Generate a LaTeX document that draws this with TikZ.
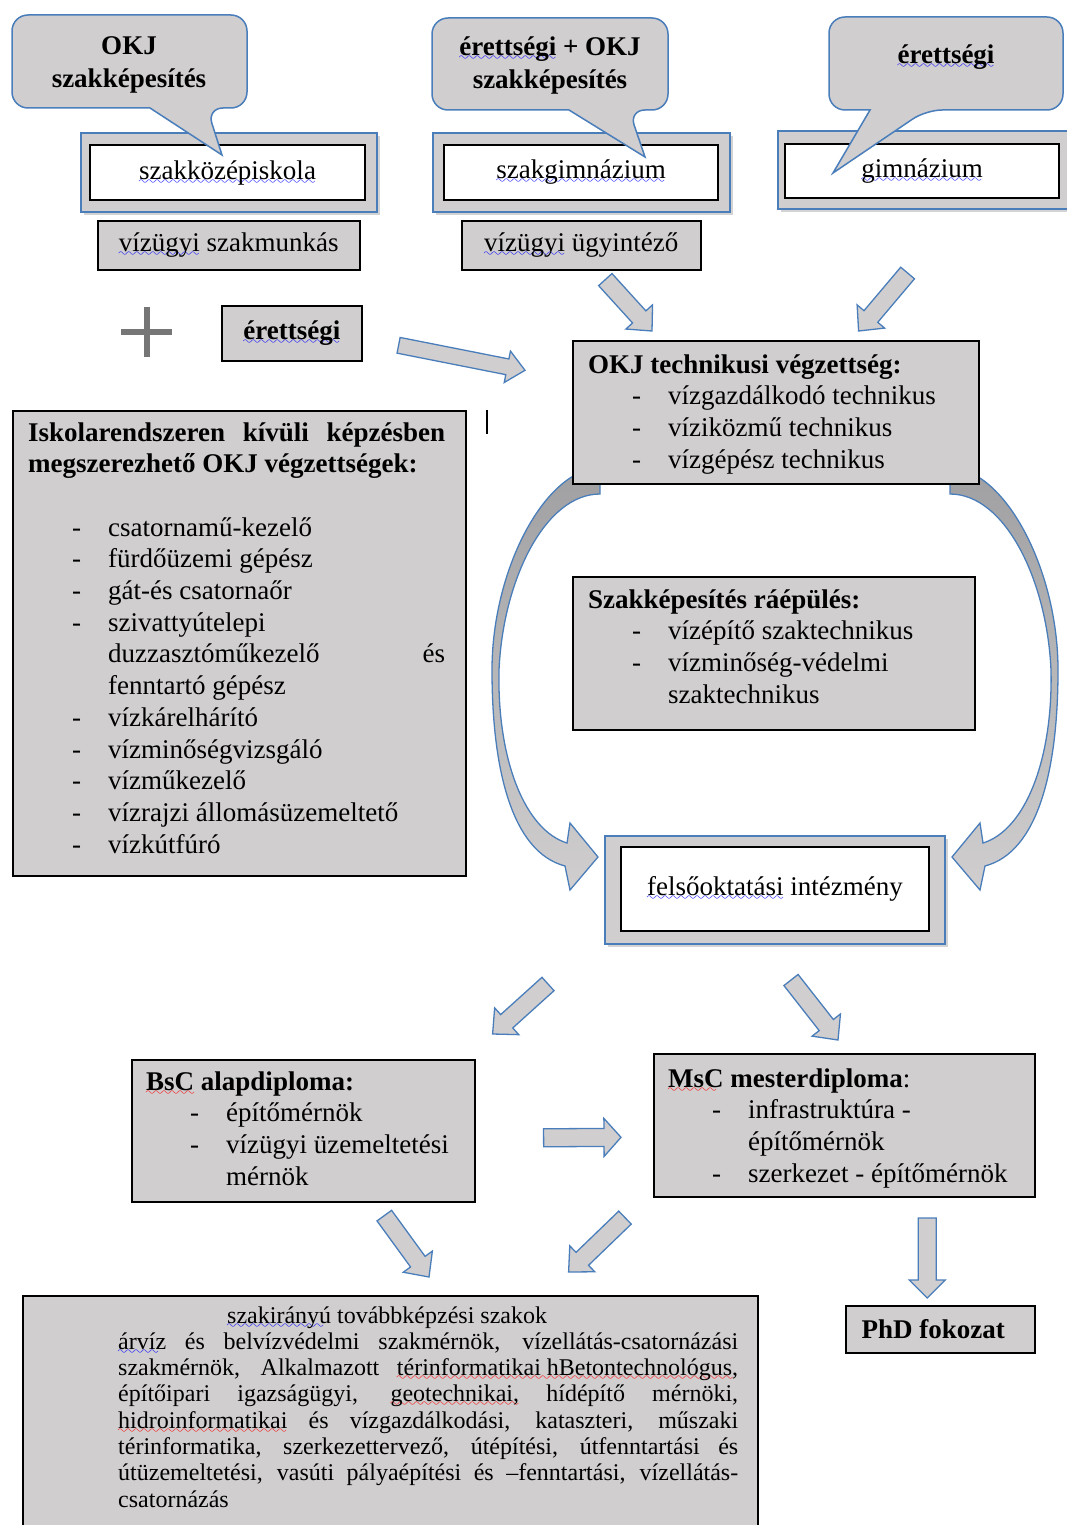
\documentclass[tikz,border=0pt]{standalone}
\usepackage{fontspec}
\setmainfont{Liberation Serif}
\usetikzlibrary{calc,shadows}

\definecolor{szurke}{RGB}{208,206,207}
\definecolor{kek}{RGB}{74,126,187}
\definecolor{sotetszurke}{RGB}{160,160,162}
\definecolor{pluszszurke}{RGB}{118,118,118}

% helyesirasi hullamvonalak
\font\hullamfont=lasy10 at 12pt
\newsavebox\hullamdoboz
\newcommand\hullam[2]{\sbox\hullamdoboz{#2}\leavevmode\rlap{\textcolor{#1}{\raisebox{-5pt}[0pt][0pt]{\leaders\hbox{\hullamfont\char58}\hskip\wd\hullamdoboz}}}\usebox\hullamdoboz}
\newcommand\kekhullam[1]{\hullam{blue}{#1}}
\newcommand\pirhullam[1]{\hullam{red}{#1}}

% sorkizart sor
\newcommand\sorkizart[2]{\makebox[#1][s]{\spaceskip=0pt\xspaceskip=0pt\relax#2}}

\newcommand\pont{\hspace*{44pt}\makebox[36pt][l]{-}}
\newcommand\folyt{\hspace*{80pt}}

% vastag nyil: honnan, hova, fel szar, fel fej, fejhossz
\newcommand\vastagnyil[5]{%
  \coordinate (nyak) at ($(#2)!#5pt!(#1)$);
  \draw[nyil] ($(#1)!#3pt!90:(#2)$) -- ($(nyak)!#3pt!90:(#2)$) -- ($(nyak)!#4pt!90:(#2)$) -- (#2)
    -- ($(nyak)!#4pt!-90:(#2)$) -- ($(nyak)!#3pt!-90:(#2)$) -- ($(#1)!#3pt!-90:(#2)$) -- cycle;}

% ives nyil (bal oldali)
\newcommand\ivesnyil{%
  \draw[ives] (600,470) -- (600,494)
    .. controls (545,494) and (503,580) .. (499,670)
    .. controls (497,760) and (525,830) .. (567,843)
    -- (570,823) -- (598,857) -- (570,890) -- (565,866)
    .. controls (512,852) and (492,770) .. (492,670)
    .. controls (492,585) and (530,500) .. (575,475) -- cycle;}

\tikzset{
  buborek/.style={fill=szurke, draw=kek, line width=1.5pt},
  buborekszoveg/.style={align=center, font=\bfseries\fontsize{27}{33}\selectfont},
  iskola/.style={anchor=north west, fill=szurke, draw=kek, line width=2pt,
    drop shadow={opacity=0.35, shadow xshift=3pt, shadow yshift=-3pt}},
  belso/.style={anchor=north west, fill=white, draw=black, line width=2pt, inner sep=0pt},
  doboz/.style={anchor=north west, fill=szurke, draw=black, line width=1.6pt, inner sep=0pt},
  lista/.style={anchor=base west, inner sep=0pt, text width=#1, align=left,
    execute at begin node={\spaceskip=0pt\xspaceskip=0pt\relax}},
  nyil/.style={fill=szurke, draw=kek, line width=1.3pt},
  ives/.style={draw=kek, line width=1.3pt, top color=sotetszurke, middle color=szurke, bottom color=szurke},
}

\begin{document}
\begin{tikzpicture}[x=1pt,y=-1pt,font=\fontsize{27}{31.7}\selectfont]
  \useasboundingbox (0,0) rectangle (1067,1525);

  % ives nyilak
  \ivesnyil
  \begin{scope}[xshift=1550pt,xscale=-1]
    \ivesnyil
  \end{scope}

  % iskolak
  \node[iskola, minimum width=296, minimum height=79] (szkozep-k) at (80,132) {};
  \node[belso, minimum width=275, minimum height=55] (szkozep) at (89,144) {\kekhullam{szakközépiskola}};
  \node[iskola, minimum width=297, minimum height=79] (szgimn-k) at (432,132) {};
  \node[belso, minimum width=274, minimum height=55] (szgimn) at (443,144) {\kekhullam{szakgimnázium}};
  \node[iskola, minimum width=300, minimum height=78] (gimn-k) at (777,130) {};
  \node[belso, minimum width=274, minimum height=54] (gimn) at (784,143) {\kekhullam{gimnázium}};

  \node[doboz, minimum width=262, minimum height=49] (szakmunkas) at (97,220) {\kekhullam{vízügyi} szakmunkás};
  \node[doboz, minimum width=239, minimum height=49] (ugyintezo) at (461,220) {\kekhullam{vízügyi} ügyintéző};

  % buborekok
  \draw[buborek] (12,60) [rounded corners=16] -- (12,15) -- (247,15) -- (247,108) -- (207,108)
    [sharp corners] -- (222,155) -- (150,108) [rounded corners=16] -- (12,108) -- cycle;
  \node[buborekszoveg] (okj-bub) at (129,65) {OKJ\\szakképesítés};
  \draw[buborek] (432,60) [rounded corners=16] -- (432,18) -- (668,18) -- (668,110) -- (629,110)
    [sharp corners] -- (645,157) -- (569,110) [rounded corners=16] -- (432,110) -- cycle;
  \node[buborekszoveg] (erokj-bub) at (550,65) {\kekhullam{érettségi} + OKJ\\szakképesítés};
  \draw[buborek] (829,60) [rounded corners=16] -- (829,17) -- (1063,17) -- (1063,110) -- (926,110)
    [sharp corners] -- (833,173) -- (870,110) [rounded corners=16] -- (829,110) -- cycle;
  \node[buborekszoveg] (er-bub) at (946,57) {\kekhullam{érettségi}};

  % plusz es erettsegi
  \draw[line width=6pt, color=pluszszurke] (121,332) -- (172,332) (147,307) -- (147,357);
  \node[doboz, minimum width=140, minimum height=55, font=\bfseries\fontsize{27}{31.7}\selectfont]
    (erettsegi) at (221,305) {\kekhullam{érettségi}};
  \draw[line width=1.5pt] (487,410) -- (487,434);

  % OKJ technikusi
  \node[doboz, minimum width=406, minimum height=143] (okj) at (572,340) {};
  \node[lista=390] (okj-sz) at ($(okj.north west)+(16,33)$) {\textbf{OKJ technikusi végzettség:}\\
    \pont vízgazdálkodó technikus\\
    \pont víziközmű technikus\\
    \pont vízgépész technikus};

  % iskolarendszeren kivul
  \node[doboz, minimum width=453, minimum height=465] (iskolan) at (12,410) {};
  \node[lista=417] (iskolan-sz) at ($(iskolan.north west)+(16,31)$) {%
    \sorkizart{417pt}{\bfseries Iskolarendszeren kívüli képzésben}\\
    \textbf{megszerezhető OKJ végzettségek:}\\[31.7pt]
    \pont csatornamű-kezelő\\
    \pont fürdőüzemi gépész\\
    \pont gát-és csatornaőr\\
    \pont szivattyútelepi\\
    \folyt duzzasztóműkezelő\hfill és\\
    \folyt fenntartó gépész\\
    \pont vízkárelhárító\\
    \pont vízminőségvizsgáló\\
    \pont vízműkezelő\\
    \pont vízrajzi állomásüzemeltető\\
    \pont vízkútfúró};

  % raepules
  \node[doboz, minimum width=402, minimum height=153] (raepul) at (572,576) {};
  \node[lista=380] (raepul-sz) at ($(raepul.north west)+(16,32)$) {\textbf{Szakképesítés ráépülés:}\\
    \pont vízépítő szaktechnikus\\
    \pont vízminőség-védelmi\\
    \folyt szaktechnikus};

  % felsooktatas
  \node[iskola, minimum width=340, minimum height=108] (felso-k) at (604,835) {};
  \node[belso, minimum width=308, minimum height=84] (felso) at (620,846) {\kekhullam{felsőoktatási} intézmény};

  % BsC, MsC, PhD
  \node[doboz, minimum width=343, minimum height=142] (bsc) at (131,1059) {};
  \node[lista=320] (bsc-sz) at ($(bsc.north west)+(15,31)$) {{\bfseries\pirhullam{BsC} alapdiploma:}\\
    \pont építőmérnök\\
    \pont vízügyi üzemeltetési\\
    \folyt mérnök};
  \node[doboz, minimum width=381, minimum height=143] (msc) at (653,1053) {};
  \node[lista=360] (msc-sz) at ($(msc.north west)+(15,34)$) {{\bfseries\pirhullam{MsC} mesterdiploma}:\\
    \pont infrastruktúra -\\
    \folyt építőmérnök\\
    \pont szerkezet - építőmérnök};
  \node[doboz, minimum width=189, minimum height=47, font=\bfseries\fontsize{27}{31.7}\selectfont]
    (phd) at (845,1305) {PhD fokozat\hspace*{14pt}};

  % szakiranyu tovabbkepzes
  \node[doboz, minimum width=735, minimum height=250] (szakok) at (22,1295) {};
  \node[lista=620, font=\fontsize{24}{26.3}\selectfont] (szakok-sz) at ($(szakok.north west)+(96,28)$) {%
    \hspace*{109pt}\kekhullam{szakirányú} továbbképzési szakok\\
    \sorkizart{620pt}{\kekhullam{árvíz} és belvízvédelmi szakmérnök, vízellátás-csatornázási}\\
    \sorkizart{620pt}{szakmérnök, Alkalmazott \pirhullam{térinformatikai hBetontechnológus,}}\\
    \sorkizart{620pt}{építőipari igazságügyi, \pirhullam{geotechnikai,} hídépítő mérnöki,}\\
    \sorkizart{620pt}{\pirhullam{hidroinformatikai} és vízgazdálkodási, kataszteri, műszaki}\\
    \sorkizart{620pt}{térinformatika, szerkezettervező, útépítési, útfenntartási és}\\
    \sorkizart{620pt}{útüzemeltetési, vasúti pályaépítési és –fenntartási, vízellátás-}\\
    csatornázás};

  % nyilak vegpontjai
  \coordinate (ugy-ki) at ($(ugyintezo.south)+(24,9)$);
  \coordinate (okj-be1) at ($(okj.north west)+(80,-9)$);
  \coordinate (gimn-ki) at ($(okj.north east)+(-72,-67)$);
  \coordinate (okj-be2) at ($(okj.north east)+(-121,-9)$);
  \coordinate (eretts-ki) at ($(erettsegi.east)+(36,12)$);
  \coordinate (okj-be3) at ($(okj.west)+(-47,-42)$);
  \coordinate (felso-ki1) at ($(felso-k.south west)+(-56,39)$);
  \coordinate (bsc-be) at ($(bsc.north east)+(17,-25)$);
  \coordinate (felso-ki2) at ($(felso-k.south)+(16,35)$);
  \coordinate (msc-be) at ($(msc.north west)+(185,-13)$);
  \coordinate (bsc-ki1) at ($(bsc.east)+(68,7)$);
  \coordinate (msc-be2) at ($(msc.west)+(-32,12)$);
  \coordinate (bsc-ki2) at ($(bsc.south)+(81,13)$);
  \coordinate (szakok-be1) at ($(szakok.north west)+(407,-18)$);
  \coordinate (msc-ki1) at ($(msc.south west)+(-28,20)$);
  \coordinate (szakok-be2) at ($(szakok.north east)+(-190,-23)$);
  \coordinate (msc-ki2) at ($(phd.north)+(-13,-87)$);
  \coordinate (phd-be) at ($(phd.north)+(-13,-7)$);

  % vastag nyilak
  \vastagnyil{ugy-ki}{okj-be1}{9}{18}{19}
  \vastagnyil{gimn-ki}{okj-be2}{9}{18}{19}
  \vastagnyil{eretts-ki}{okj-be3}{8}{16}{18}
  \vastagnyil{felso-ki1}{bsc-be}{9}{18}{19}
  \vastagnyil{felso-ki2}{msc-be}{9}{18}{19}
  \vastagnyil{bsc-ki1}{msc-be2}{9}{19}{17}
  \vastagnyil{bsc-ki2}{szakok-be1}{9}{18}{19}
  \vastagnyil{msc-ki1}{szakok-be2}{9}{18}{19}
  \vastagnyil{msc-ki2}{phd-be}{9}{18}{18}
\end{tikzpicture}
\end{document}
